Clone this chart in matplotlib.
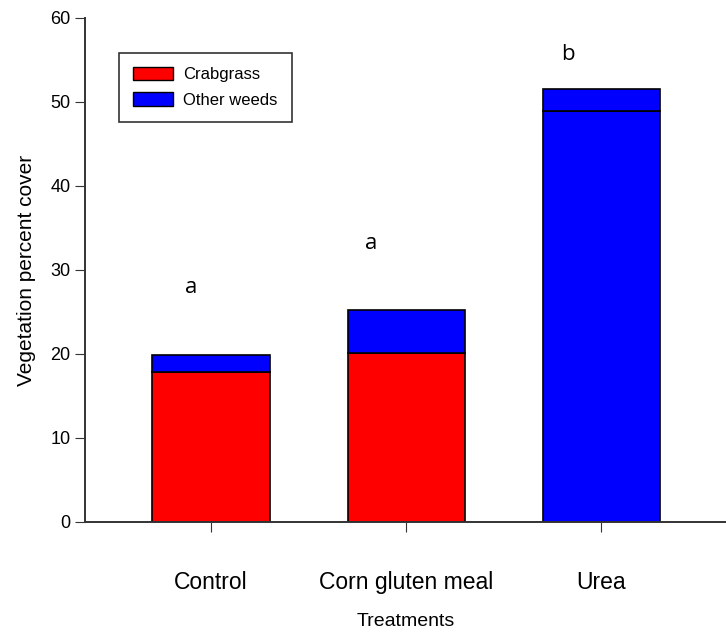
import numpy as np
import matplotlib
matplotlib.use('Agg')
from matplotlib import pyplot as plt
from matplotlib.patches import Patch

treatments = ['Control', 'Corn gluten meal', 'Urea']
crabgrass = [17.8, 20.1, 48.9]
other_weeds = [2.1, 5.1, 2.6]
# the bottom segment of the Urea bar is drawn blue in the original
crab_colors = ['red', 'red', 'blue']
letters = ['a', 'a', 'b']
letter_x = [-0.10, 0.82, 1.83]
letter_y = [27.9, 33.2, 55.7]

plt.rcParams['font.family'] = ['Liberation Sans', 'DejaVu Sans']


def draw():
    fig = plt.figure(figsize=(7.26, 6.34), dpi=100)
    ax = fig.add_axes([85 / 726, 112 / 634, 641 / 726, 504 / 634])

    x = np.arange(len(treatments))
    ax.bar(x, crabgrass, width=0.6, color=crab_colors, edgecolor='black', linewidth=1.2)
    ax.bar(x, other_weeds, width=0.6, bottom=crabgrass, color='blue',
           edgecolor='black', linewidth=1.2)

    for lx, ly, t in zip(letter_x, letter_y, letters):
        ax.text(lx, ly, t, ha='center', va='center', fontsize=16, family='Open Sans')

    ax.set_xlim(-0.646, 2.64)
    ax.set_ylim(0, 60)
    ax.set_yticks(range(0, 61, 10))
    ax.set_xticks(x)
    ax.set_xticklabels(treatments, fontsize=16.5)
    ax.tick_params(axis='x', length=7, pad=28, colors='#333333', labelcolor='black')
    ax.tick_params(axis='y', length=7, labelsize=13, colors='#333333', labelcolor='black')
    for s in ['top', 'right']:
        ax.spines[s].set_visible(False)
    for s in ['left', 'bottom']:
        ax.spines[s].set_color('#333333')
        ax.spines[s].set_linewidth(1.4)

    ax.set_xlabel('Treatments', fontsize=14, labelpad=14)
    ax.set_ylabel('Vegetation percent cover', fontsize=15, labelpad=10)

    handles = [Patch(facecolor='red', edgecolor='black', label='Crabgrass'),
               Patch(facecolor='blue', edgecolor='black', label='Other weeds')]
    leg = ax.legend(handles=handles, loc='upper left', bbox_to_anchor=(0.053, 0.931),
                    borderaxespad=0, fontsize=12, fancybox=False, framealpha=1,
                    edgecolor='#333333', handlelength=2.4, handleheight=0.85,
                    handletextpad=0.6, labelspacing=0.6, borderpad=0.85)
    leg.get_frame().set_linewidth(1.2)

    fig.savefig('out.png', dpi=100)


if __name__ == "__main__":
    draw()
